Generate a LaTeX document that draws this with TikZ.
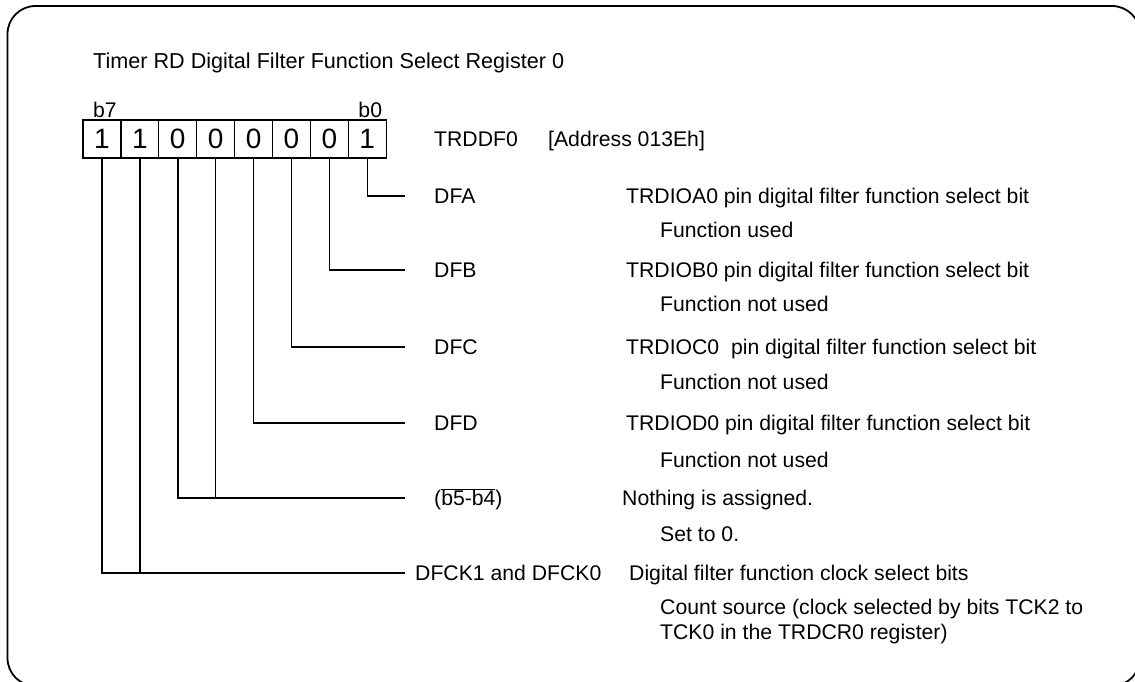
\documentclass[tikz,border=0pt]{standalone}
\usepackage{fontspec}
\setmainfont{Liberation Sans}
\begin{document}
\begin{tikzpicture}[x=1pt,y=-1pt,
  lbl/.style={anchor=west,inner sep=0pt,text height=15.2pt,text depth=0pt,
              font=\fontsize{21.2}{25}\selectfont},
  bitcell/.style={draw,line width=1.3pt,minimum width=37.9pt,minimum height=38pt,
                  inner sep=0pt,font=\fontsize{28}{32}\selectfont},
  bitno/.style={anchor=base,inner sep=0pt,font=\fontsize{21.2}{25}\selectfont},
  wire/.style={line width=1.5pt}]
\useasboundingbox (0,0) rectangle (1135,682);
% outer frame
\begin{scope}
  \clip (0,0) rectangle (1135,682);
  \draw[line width=1.8pt,rounded corners=28pt] (7.5,6) rectangle (1140,686);
\end{scope}

% title
\node[lbl,font=\fontsize{21.6}{25}\selectfont] (title) at (93,61)
  {Timer RD Digital Filter Function Select Register 0};

% register bits b7 ... b0
\foreach \v [count=\i from 0] in {1,1,0,0,0,0,0,1} {
  \pgfmathtruncatemacro\b{7-\i}
  \node[bitcell] (c\b) at ({83+37.9*\i+18.95},139) {\v};
}
\node[bitno] (nb7) at ([xshift=3pt,yshift=2pt]c7.north) {b7};
\node[bitno] (nb0) at ([xshift=3pt,yshift=2pt]c0.north) {b0};

% register name and address
\node[lbl] (reg)  at (434,139) {TRDDF0};
\node[lbl] (addr) at (548,139) {[Address 013Eh]};

% bit names
\node[lbl] (dfa)  at (434,196) {DFA};
\node[lbl] (dfb)  at (434,270) {DFB};
\node[lbl] (dfc)  at (434,347) {DFC};
\node[lbl] (dfd)  at (434,423) {DFD};
\node[lbl] (nb54) at (434,498) {(\(\overline{\mbox{b5-b4}}\))};
\node[lbl] (dfck) at (415,573) {DFCK1 and DFCK0};

% bit descriptions
\node[lbl] (da)  at (626,196) {TRDIOA0 pin digital filter function select bit};
\node[lbl] (da1) at (660,230) {Function used};
\node[lbl] (db)  at (626,270) {TRDIOB0 pin digital filter function select bit};
\node[lbl] (db1) at (660,304) {Function not used};
\node[lbl] (dc)  at (626,347) {TRDIOC0\ \ pin digital filter function select bit};
\node[lbl] (dc1) at (660,382) {Function not used};
\node[lbl] (dd)  at (626,423) {TRDIOD0 pin digital filter function select bit};
\node[lbl] (dd1) at (660,460) {Function not used};
\node[lbl] (dn)  at (622,498) {Nothing is assigned.};
\node[lbl] (dn1) at (660,534) {Set to 0.};
\node[lbl] (dk)  at (629,573) {Digital filter function clock select bits};
\node[lbl] (dk1) at (660,607) {Count source (clock selected by bits TCK2 to};
\node[lbl] (dk2) at (660,632) {TCK0 in the TRDCR0 register)};

% leader lines from the bits to their names
\draw[wire] (c0.south) |- ([xshift=-29pt]dfa.west);
\draw[wire] (c1.south) |- ([xshift=-29pt]dfb.west);
\draw[wire] (c2.south) |- ([xshift=-29pt]dfc.west);
\draw[wire] (c3.south) |- ([xshift=-29pt]dfd.west);
\draw[wire] (c5.south) |- ([xshift=-29pt]nb54.west);
\draw[wire] (c4.south) -- (c4.south |- nb54.west);
\draw[wire] (c7.south) |- ([xshift=-10pt]dfck.west);
\draw[wire] (c6.south) -- (c6.south |- dfck.west);
\end{tikzpicture}
\end{document}
